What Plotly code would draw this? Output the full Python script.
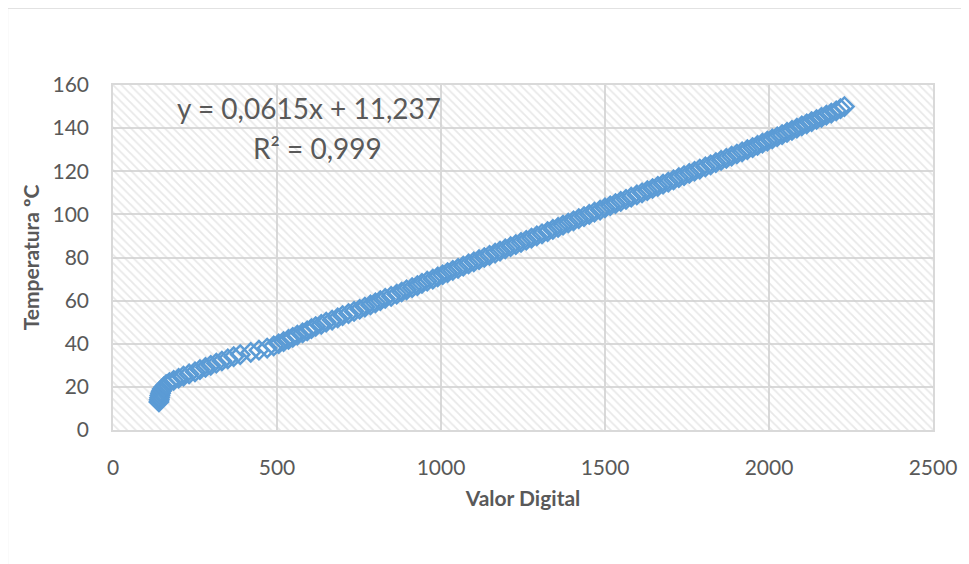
import plotly.graph_objects as go

# Data
valor_digital = [140, 141, 142, 143, 145, 147, 150, 155, 162, 172, 185, 200, 215, 232, 250, 265,
                 282, 298, 315, 332, 350, 368, 388, 420, 445, 470, 490, 505, 520, 535, 548, 562,
                 578, 592, 605, 618, 635, 650, 668, 685, 700, 718, 735, 752, 768, 785, 800, 815,
                 830, 848, 865, 880, 895, 912, 928, 942, 958, 975, 990, 1005, 1020, 1036, 1052,
                 1068, 1084, 1100, 1116, 1132, 1148, 1165, 1180, 1196, 1212, 1228, 1244, 1260,
                 1276, 1292, 1308, 1325, 1341, 1357, 1372, 1388, 1404, 1420, 1436, 1452, 1468,
                 1485, 1500, 1516, 1532, 1548, 1564, 1580, 1597, 1613, 1629, 1645, 1661, 1677,
                 1693, 1709, 1725, 1741, 1757, 1773, 1789, 1806, 1822, 1838, 1854, 1870, 1886,
                 1902, 1918, 1934, 1950, 1965, 1980, 1995, 2010, 2025, 2040, 2055, 2070, 2085,
                 2100, 2115, 2130, 2145, 2160, 2175, 2190, 2205, 2218, 2230]
temperatura = [13, 14, 15, 16, 17, 18, 19, 20, 21, 22, 23, 24, 25, 26, 27, 28,
               29, 30, 31, 32, 33, 34, 35, 36, 37, 38, 39, 40, 41, 42, 43, 44,
               45, 46, 47, 48, 49, 50, 51, 52, 53, 54, 55, 56, 57, 58, 59, 60,
               61, 62, 63, 64, 65, 66, 67, 68, 69, 70, 71, 72, 73, 74, 75,
               76, 77, 78, 79, 80, 81, 82, 83, 84, 85, 86, 87, 88,
               89, 90, 91, 92, 93, 94, 95, 96, 97, 98, 99, 100, 101,
               102, 103, 104, 105, 106, 107, 108, 109, 110, 111, 112, 113,
               114, 115, 116, 117, 118, 119, 120, 121, 122, 123, 124, 125, 126,
               127, 128, 129, 130, 131, 132, 133, 134, 135, 136, 137, 138, 139, 140,
               141, 142, 143, 144, 145, 146, 147, 148, 149, 150]

x_range = [0, 2500]
y_range = [0, 160]
x_ticks = [0, 500, 1000, 1500, 2000, 2500]
y_ticks = [0, 20, 40, 60, 80, 100, 120, 140, 160]
equation_line1 = "y = 0,0615x + 11,237"
equation_line2 = "R² = 0,999"

GRID = "#d9d9d9"
TICK = "#595959"
BLUE = "#5b9bd5"
FONT = "Lato, 'Open Sans', sans-serif"

# the page body has an 8px margin; screenshot px -> figure px
OFF = 8
W, H = 969 - OFF, 564 - OFF
L, R, T, B = 113 - OFF, 936 - OFF, 85 - OFF, 430 - OFF


def px2x(p):
    return (p - OFF - L) / (R - L)


def px2y(p):
    return (B - (p - OFF)) / (B - T)


fig = go.Figure()

# hatched plot-area background
fig.add_trace(go.Scatter(
    x=[x_range[0], x_range[1], x_range[1], x_range[0], x_range[0]],
    y=[y_range[0], y_range[0], y_range[1], y_range[1], y_range[0]],
    mode="none", fill="toself", fillcolor="rgba(0,0,0,0)",
    fillpattern=dict(shape="\\", fgcolor="#d2d2d2", size=6, solidity=0.3),
    hoverinfo="skip", showlegend=False,
))

fig.add_trace(go.Scatter(
    x=valor_digital, y=temperatura, mode="markers",
    marker=dict(symbol="diamond-open", size=14, color=BLUE, line=dict(width=2.5, color=BLUE)),
    showlegend=False,
))

# outer chart border
fig.add_shape(type="rect", xref="paper", yref="paper",
              x0=px2x(7), x1=px2x(990), y0=px2y(590), y1=px2y(8),
              line=dict(color=GRID, width=1.5), layer="below")

fig.add_annotation(x=px2x(310), y=px2y(108), xref="paper", yref="paper",
                   xanchor="center", yanchor="middle",
                   text=equation_line1, showarrow=False,
                   font=dict(family=FONT, size=28, color=TICK))
fig.add_annotation(x=px2x(318), y=px2y(148), xref="paper", yref="paper",
                   xanchor="center", yanchor="middle",
                   text=equation_line2, showarrow=False,
                   font=dict(family=FONT, size=28, color=TICK))

fig.update_layout(
    width=W, height=H,
    margin=dict(l=L, r=W - R, t=T, b=H - B),
    paper_bgcolor="white", plot_bgcolor="white",
    font=dict(family=FONT, color=TICK, size=21),
    xaxis=dict(range=x_range, tickvals=x_ticks, showgrid=True, gridcolor=GRID, gridwidth=1.5,
               zeroline=False, showline=True, linecolor=GRID, linewidth=1.5, mirror=True,
               ticks="", ticklabelstandoff=18, tickfont=dict(size=21, color=TICK),
               title=dict(text="<b>Valor Digital</b>", font=dict(size=21, color=TICK), standoff=13)),
    yaxis=dict(range=y_range, tickvals=y_ticks, showgrid=True, gridcolor=GRID, gridwidth=1.5,
               zeroline=False, showline=True, linecolor=GRID, linewidth=1.5, mirror=True,
               ticks="", ticklabelstandoff=18, tickfont=dict(size=21, color=TICK),
               title=dict(text="<b>Temperatura ºC</b>", font=dict(size=21, color=TICK), standoff=7)),
)

fig.write_html("out.html")
